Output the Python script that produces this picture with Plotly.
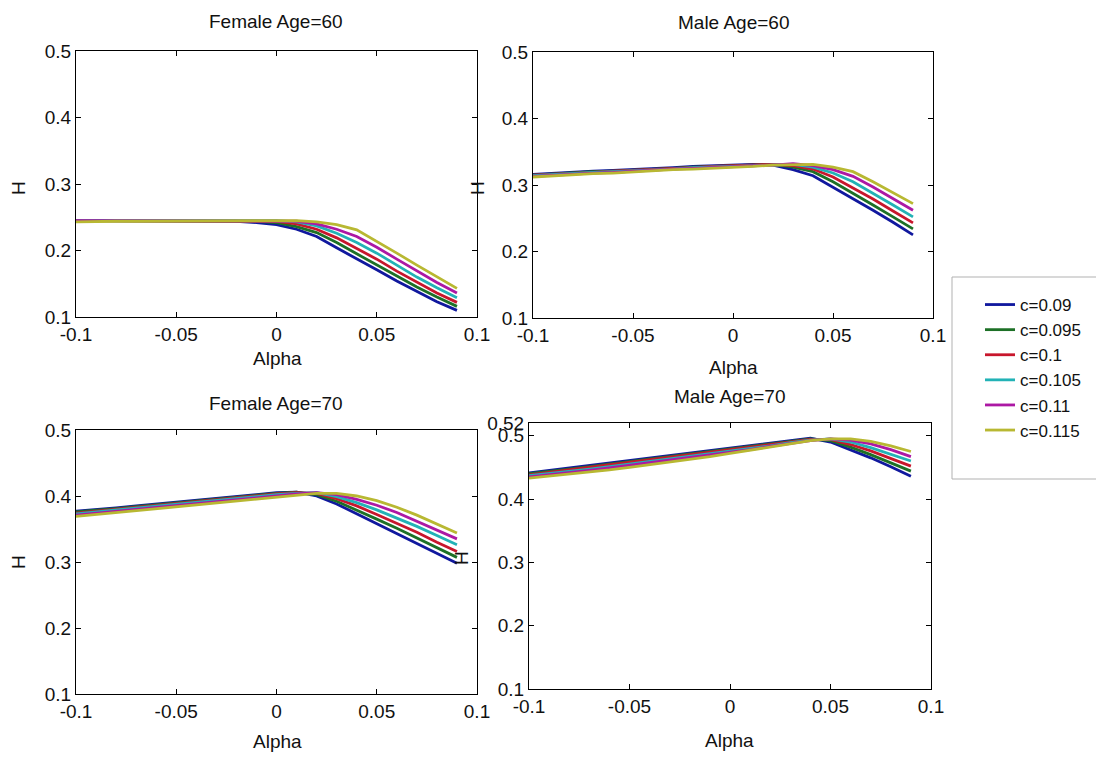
import plotly.graph_objects as go
from plotly.subplots import make_subplots

# alpha grid shared by every panel
alpha = [-0.1, -0.09, -0.08, -0.07, -0.06, -0.05, -0.04, -0.03, -0.02, -0.01,
         0.0, 0.01, 0.02, 0.03, 0.04, 0.05, 0.06, 0.07, 0.08, 0.09]

c_labels = ['c=0.09', 'c=0.095', 'c=0.1', 'c=0.105', 'c=0.11', 'c=0.115']
colors = ['#10189e', '#1d7026', '#c8162c', '#22b2b6', '#ac18a4', '#b8b832']

# Female Age=60, one list per c value
f60 = [
    [0.245, 0.245, 0.245, 0.245, 0.245, 0.245, 0.245, 0.245, 0.244, 0.242,
     0.239, 0.232, 0.221, 0.204, 0.188, 0.171, 0.154, 0.138, 0.123, 0.110],
    [0.245, 0.245, 0.245, 0.245, 0.245, 0.245, 0.245, 0.245, 0.245, 0.244,
     0.242, 0.236, 0.227, 0.212, 0.195, 0.178, 0.161, 0.145, 0.130, 0.116],
    [0.245, 0.245, 0.245, 0.245, 0.245, 0.245, 0.245, 0.245, 0.245, 0.245,
     0.244, 0.240, 0.232, 0.219, 0.203, 0.187, 0.169, 0.152, 0.136, 0.122],
    [0.245, 0.245, 0.245, 0.245, 0.245, 0.245, 0.245, 0.245, 0.245, 0.245,
     0.245, 0.243, 0.237, 0.226, 0.212, 0.196, 0.178, 0.160, 0.144, 0.129],
    [0.245, 0.245, 0.245, 0.245, 0.245, 0.245, 0.245, 0.245, 0.245, 0.245,
     0.245, 0.244, 0.240, 0.232, 0.221, 0.205, 0.187, 0.169, 0.152, 0.136],
    [0.243, 0.244, 0.244, 0.244, 0.244, 0.244, 0.244, 0.244, 0.244, 0.245,
     0.245, 0.245, 0.243, 0.239, 0.231, 0.214, 0.196, 0.178, 0.160, 0.143],
]

# Male Age=60
m60 = [
    [0.316, 0.318, 0.319, 0.321, 0.322, 0.323, 0.325, 0.326, 0.328, 0.329,
     0.330, 0.331, 0.330, 0.323, 0.314, 0.297, 0.280, 0.262, 0.244, 0.225],
    [0.315, 0.317, 0.318, 0.320, 0.321, 0.322, 0.324, 0.325, 0.327, 0.328,
     0.329, 0.331, 0.331, 0.327, 0.320, 0.305, 0.288, 0.270, 0.252, 0.234],
    [0.315, 0.316, 0.318, 0.319, 0.321, 0.322, 0.323, 0.325, 0.326, 0.328,
     0.329, 0.330, 0.331, 0.329, 0.324, 0.312, 0.296, 0.279, 0.261, 0.243],
    [0.314, 0.316, 0.317, 0.319, 0.320, 0.321, 0.323, 0.324, 0.326, 0.327,
     0.328, 0.330, 0.331, 0.331, 0.327, 0.318, 0.305, 0.288, 0.270, 0.252],
    [0.313, 0.315, 0.316, 0.318, 0.319, 0.321, 0.322, 0.324, 0.325, 0.326,
     0.328, 0.329, 0.330, 0.332, 0.329, 0.323, 0.313, 0.297, 0.280, 0.262],
    [0.312, 0.314, 0.315, 0.317, 0.318, 0.320, 0.321, 0.323, 0.324, 0.325,
     0.327, 0.328, 0.330, 0.331, 0.331, 0.327, 0.320, 0.305, 0.289, 0.272],
]

# Female Age=70
f70 = [
    [0.377, 0.379, 0.382, 0.385, 0.388, 0.391, 0.394, 0.397, 0.400, 0.403,
     0.405, 0.406, 0.400, 0.388, 0.373, 0.358, 0.343, 0.328, 0.313, 0.298],
    [0.376, 0.378, 0.381, 0.384, 0.387, 0.390, 0.393, 0.396, 0.399, 0.402,
     0.404, 0.406, 0.402, 0.392, 0.379, 0.365, 0.351, 0.336, 0.322, 0.307],
    [0.374, 0.377, 0.380, 0.383, 0.386, 0.389, 0.392, 0.395, 0.398, 0.401,
     0.403, 0.405, 0.404, 0.396, 0.385, 0.372, 0.359, 0.345, 0.330, 0.316],
    [0.373, 0.376, 0.379, 0.381, 0.384, 0.387, 0.390, 0.393, 0.396, 0.399,
     0.402, 0.404, 0.405, 0.399, 0.390, 0.379, 0.367, 0.354, 0.340, 0.326],
    [0.371, 0.374, 0.377, 0.380, 0.383, 0.386, 0.389, 0.392, 0.395, 0.398,
     0.401, 0.403, 0.405, 0.402, 0.395, 0.386, 0.375, 0.362, 0.349, 0.335],
    [0.369, 0.372, 0.375, 0.378, 0.381, 0.384, 0.387, 0.390, 0.393, 0.396,
     0.399, 0.402, 0.404, 0.404, 0.400, 0.393, 0.383, 0.371, 0.358, 0.344],
]

# Male Age=70
m70 = [
    [0.441, 0.445, 0.449, 0.453, 0.457, 0.461, 0.465, 0.469, 0.473, 0.477,
     0.481, 0.485, 0.489, 0.493, 0.496, 0.490, 0.478, 0.465, 0.451, 0.436],
    [0.440, 0.443, 0.447, 0.451, 0.455, 0.459, 0.463, 0.467, 0.471, 0.475,
     0.479, 0.483, 0.487, 0.491, 0.495, 0.492, 0.482, 0.470, 0.457, 0.444],
    [0.438, 0.442, 0.446, 0.449, 0.453, 0.457, 0.461, 0.465, 0.469, 0.473,
     0.477, 0.481, 0.486, 0.490, 0.494, 0.494, 0.486, 0.476, 0.464, 0.452],
    [0.437, 0.440, 0.444, 0.447, 0.451, 0.455, 0.459, 0.463, 0.467, 0.471,
     0.476, 0.480, 0.484, 0.489, 0.493, 0.495, 0.490, 0.481, 0.471, 0.460],
    [0.435, 0.438, 0.442, 0.445, 0.449, 0.453, 0.457, 0.461, 0.465, 0.469,
     0.474, 0.478, 0.483, 0.488, 0.492, 0.495, 0.493, 0.487, 0.478, 0.467],
    [0.433, 0.436, 0.439, 0.443, 0.446, 0.450, 0.454, 0.458, 0.462, 0.467,
     0.472, 0.477, 0.482, 0.487, 0.492, 0.495, 0.495, 0.491, 0.484, 0.475],
]

x_ticks = [-0.1, -0.05, 0, 0.05, 0.1]
x_ticktext = ['-0.1', '-0.05', '0', '0.05', '0.1']

# the page has an 8px body margin, so the figure is a little smaller than the window
OFF = 8
W, H = 1104 - OFF, 761 - OFF
FONT = 'Liberation Sans, Arial, sans-serif'
TXT = '#111111'


def px_x(p):
    return (p - OFF) / W


def px_y(p):
    return 1 - (p - OFF) / H


# (title, data, plot box in window pixels [left, right, top, bottom], y range, y ticks, row, col)
panels = [
    ('Female Age=60', f60, (76, 477, 51, 317), [0.1, 0.5], [0.1, 0.2, 0.3, 0.4, 0.5], 1, 1),
    ('Male Age=60', m60, (533, 933, 52, 318), [0.1, 0.5], [0.1, 0.2, 0.3, 0.4, 0.5], 1, 2),
    ('Female Age=70', f70, (76, 477, 430, 694), [0.1, 0.5], [0.1, 0.2, 0.3, 0.4, 0.5], 2, 1),
    ('Male Age=70', m70, (529, 931, 423, 689), [0.1, 0.52], [0.1, 0.2, 0.3, 0.4, 0.5, 0.52], 2, 2),
]

# where the titles / axis labels sit (pixel centres)
title_pos = [(276, 22), (733, 23), (276, 403), (730, 396)]
xlabel_pos = [(277, 358), (733, 367), (277, 741), (730, 740)]
ylabel_pos = [(18, 188), (477, 188), (18, 562), (461, 558)]

fig = make_subplots(rows=2, cols=2)
annotations = []

for i, (title, data, box, yr, yt, r, c) in enumerate(panels):
    for j, ys in enumerate(data):
        fig.add_trace(go.Scatter(
            x=alpha, y=ys, mode='lines', name=c_labels[j],
            line=dict(color=colors[j], width=2.8),
            showlegend=(i == 0), legendgroup=c_labels[j]), row=r, col=c)

    left, right, top, bottom = box
    fig.update_xaxes(domain=[px_x(left), px_x(right)], range=[-0.1, 0.1],
                     tickvals=x_ticks, ticktext=x_ticktext, row=r, col=c)
    fig.update_yaxes(domain=[px_y(bottom), px_y(top)], range=yr,
                     tickvals=yt, ticktext=[str(v) for v in yt], row=r, col=c)

    for text, (ax, ay), ang in ((title, title_pos[i], 0), ('Alpha', xlabel_pos[i], 0),
                                ('H', ylabel_pos[i], -90)):
        annotations.append(dict(text=text, x=px_x(ax), y=px_y(ay), xref='paper', yref='paper',
                                xanchor='center', yanchor='middle', showarrow=False,
                                textangle=ang, font=dict(family=FONT, size=19, color=TXT)))

axis_style = dict(showline=True, linecolor='black', linewidth=1, mirror='ticks',
                  ticks='inside', ticklen=5, tickcolor='black', tickwidth=1,
                  showgrid=False, zeroline=False, automargin=False,
                  tickfont=dict(family=FONT, size=19, color=TXT))
fig.update_xaxes(**axis_style)
fig.update_yaxes(**axis_style)

# legend frame drawn separately so it can have the reference's size
legend_box = dict(type='rect', xref='paper', yref='paper',
                  x0=px_x(952), x1=px_x(1102), y0=px_y(479), y1=px_y(277),
                  line=dict(color='black', width=1), fillcolor='white', layer='below')

fig.update_layout(
    template='simple_white',
    width=W, height=H,
    margin=dict(l=0, r=0, t=0, b=0),
    paper_bgcolor='white', plot_bgcolor='white',
    annotations=annotations,
    shapes=[legend_box],
    legend=dict(x=px_x(980), y=px_y(287), xanchor='left', yanchor='top',
                borderwidth=0, bgcolor='rgba(0,0,0,0)',
                font=dict(family=FONT, size=17, color=TXT),
                tracegroupgap=0),
)

fig.write_html("out.html")
